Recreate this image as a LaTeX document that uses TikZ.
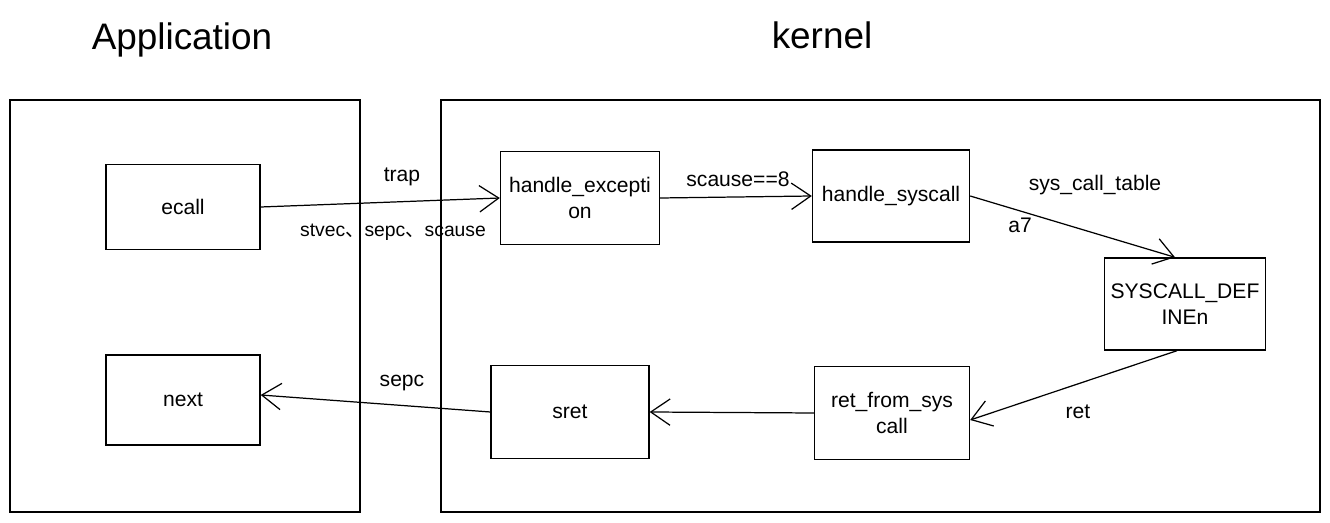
\documentclass[tikz,border=0pt]{standalone}
\usepackage{fontspec}
\setmainfont{Liberation Sans}
\newfontfamily\cjk{Noto Sans CJK SC}
\usetikzlibrary{arrows.meta,positioning}

\tikzset{
  frame/.style={draw, line width=0.8pt, minimum width=7cm, minimum height=8.24cm},
  callbox/.style={draw, line width=0.8pt, minimum width=3.14cm, minimum height=1.84cm,
    align=center, font=\fontsize{12}{15}\selectfont},
  lbl/.style={font=\fontsize{12}{15}\selectfont},
  title/.style={font=\fontsize{21}{25}\selectfont},
  flow/.style={line width=0.7pt, -{Straight Barb[length=11pt,width=15pt,line width=0.7pt]}}
}

\begin{document}
\begin{tikzpicture}[x=0.02cm, y=-0.02cm]
  \useasboundingbox (0,0) rectangle (1330,523);

  % the two sides
  \node[frame] (app) at (185,306) {};
  \node[frame, minimum width=17.58cm] (kern) at (880.5,306) {};
  \node[title] (apptitle) at (182,40) {Application};
  \node[title] (kerntitle) at (822,35) {kernel};

  % application side
  \node[callbox, minimum width=3.08cm, minimum height=1.7cm] (ecall) at (183,207) {ecall};
  \node[callbox, minimum width=3.08cm, minimum height=1.8cm] (next) at (183,400) {next};

  % kernel side
  \node[callbox, minimum width=3.18cm, minimum height=1.86cm] (hexc) at (580,198) {handle\_excepti\\on};
  \node[callbox] (hsys) at (891,196) {handle\_syscall};
  \node[callbox] (sysdef) at (1185,304) {SYSCALL\_DEF\\INEn};
  \node[callbox, minimum width=3.1cm, minimum height=1.86cm] (retsys) at (892,413) {ret\_from\_sys\\call};
  \node[callbox, minimum width=3.16cm, minimum height=1.86cm] (sret) at (570,412) {sret};

  % flow
  \draw[flow] (ecall.east) -- (hexc.west);
  \node[lbl] (trap) at (402,177) {trap};
  \node[lbl, font=\fontsize{11}{14}\selectfont] (regs) at (393,232) {stvec{\cjk 、}sepc{\cjk 、}scause};

  \draw[flow] (hexc.east) -- (hsys.west);
  \node[lbl] (cause) at (738,179) {scause==8};

  \draw[flow] (hsys.east) -- ([xshift=-0.2cm]sysdef.north);
  \node[lbl] (table) at (1095,185) {sys\_call\_table};
  \node[lbl] (a7) at (1020,225) {a7};

  \draw[flow] ([xshift=-0.16cm]sysdef.south) -- ([yshift=-0.14cm]retsys.east);
  \node[lbl] (ret) at (1078,412) {ret};

  \draw[flow] (retsys.west) -- (sret.east);

  \draw[flow] (sret.west) -- ([yshift=0.1cm]next.east);
  \node[lbl] (sepc) at (402,383) {sepc};
\end{tikzpicture}
\end{document}
